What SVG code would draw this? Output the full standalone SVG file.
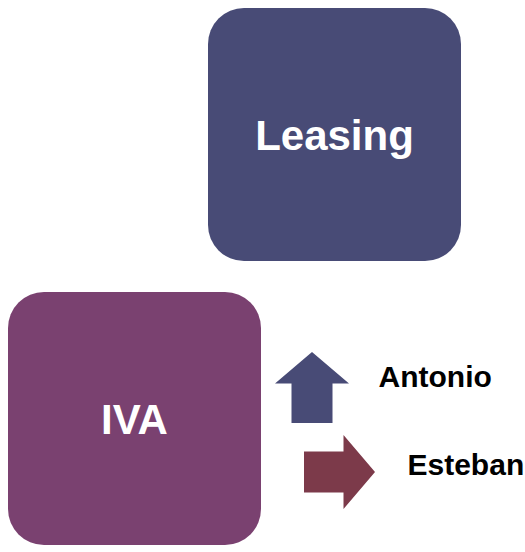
<svg xmlns="http://www.w3.org/2000/svg" width="525" height="552" viewBox="0 0 525 552">
<style>
.box-text{font-family:"Liberation Sans",Arial,sans-serif;font-weight:bold;font-size:42px;fill:#ffffff;text-anchor:middle}
.lbl{font-family:"Liberation Sans",Arial,sans-serif;font-weight:bold;font-size:30px;fill:#000000}
</style>
<rect width="525" height="552" fill="#ffffff"/>
<g id="leasing">
<rect x="208" y="8" width="253" height="253" rx="36" ry="36" fill="#484B76"/>
<text class="box-text" x="334.5" y="149.5">Leasing</text>
</g>
<g id="iva">
<rect x="8" y="292" width="253" height="253" rx="36" ry="36" fill="#7A4170"/>
<text class="box-text" x="134.5" y="433.5">IVA</text>
</g>
<g id="connectors">
<polygon id="arrow-up" points="312,352 349,383.5 332.5,383.5 332.5,423 291.5,423 291.5,383.5 275,383.5" fill="#484B76"/>
<polygon id="arrow-right" points="375,472 343.5,435 343.5,451.5 304,451.5 304,492.5 343.5,492.5 343.5,509" fill="#7C3A4A"/>
</g>
<g id="antonio">
<text class="lbl" x="378.5" y="386.5">Antonio</text>
</g>
<g id="esteban">
<text class="lbl" x="407.5" y="474.5">Esteban</text>
</g>
</svg>
